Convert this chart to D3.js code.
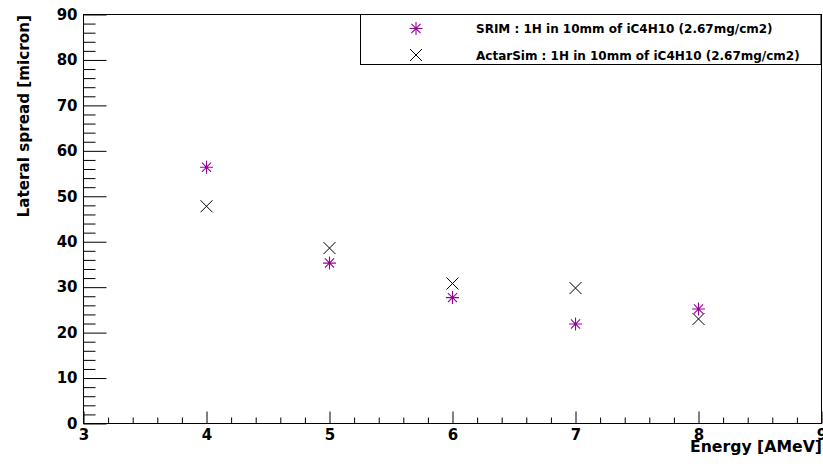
<!DOCTYPE html>
<html>
<head>
<meta charset="utf-8">
<script src="https://cdn.jsdelivr.net/npm/d3@7"></script>
<style>
  html, body { margin: 0; padding: 0; background: #fff; }
  svg { display: block; font-family: "DejaVu Sans", "Liberation Sans", Arial, sans-serif; font-weight: bold; }
</style>
</head>
<body>
<svg id="chart" width="823" height="466"></svg>
<script>
// Energy points (AMeV)
const energies = [4, 5, 6, 7, 8];
// Lateral spread (micron) for each simulation
const srimSpread = [56.4, 35.3, 27.7, 21.9, 25.2];
const actarSpread = [47.8, 38.6, 30.8, 29.8, 23.0];
const seriesNames = [
  "SRIM : 1H in 10mm of iC4H10 (2.67mg/cm2)",
  "ActarSim : 1H in 10mm of iC4H10 (2.67mg/cm2)"
];
const xTicks = [3, 4, 5, 6, 7, 8, 9];
const yTicks = [0, 10, 20, 30, 40, 50, 60, 70, 80, 90];
const xTitle = "Energy [AMeV]";
const yTitle = "Lateral spread [micron]";

const FONT = "DejaVu Sans, Liberation Sans, Arial, sans-serif";
const svg = d3.select("#chart");
const frame = { left: 83.5, right: 821.5, top: 14.5, bottom: 423.5 };

const x = d3.scaleLinear().domain([3, 9]).range([frame.left, frame.right]);
const y = d3.scaleLinear().domain([0, 90]).range([frame.bottom, frame.top]);

// minor ticks
const xMinor = d3.range(3, 9.0001, 0.2).map(v => +v.toFixed(1)).filter(v => !xTicks.includes(v));
const yMinor = d3.range(0, 90.001, 2).filter(v => !yTicks.includes(v));

const g = svg.append("g");

// frame box
g.append("rect")
  .attr("x", frame.left).attr("y", frame.top)
  .attr("width", frame.right - frame.left).attr("height", frame.bottom - frame.top)
  .attr("fill", "none").attr("stroke", "#000").attr("stroke-width", 1);

const styleLabels = a => a.selectAll("text")
  .attr("font-size", 15).attr("font-family", FONT)
  .attr("font-weight", "bold").attr("fill", "#000");

// y axis minor ticks
g.append("g").attr("transform", `translate(${frame.left},0)`)
  .call(d3.axisLeft(y).tickValues(yMinor).tickFormat("").tickSize(-12).tickSizeOuter(0))
  .call(a => a.select(".domain").remove());

// y axis major ticks + labels
g.append("g").attr("transform", `translate(${frame.left},0)`)
  .call(d3.axisLeft(y).tickValues(yTicks).tickFormat(d3.format("d"))
    .tickSize(-23).tickSizeOuter(0).tickPadding(6))
  .call(a => a.select(".domain").remove())
  .call(styleLabels);

// x axis minor ticks
g.append("g").attr("transform", `translate(0,${frame.bottom})`)
  .call(d3.axisBottom(x).tickValues(xMinor).tickFormat("").tickSize(-6).tickSizeOuter(0))
  .call(a => a.select(".domain").remove());

// x axis major ticks + labels
g.append("g").attr("transform", `translate(0,${frame.bottom})`)
  .call(d3.axisBottom(x).tickValues(xTicks).tickFormat(d3.format("d"))
    .tickSize(-12).tickSizeOuter(0).tickPadding(6))
  .call(a => a.select(".domain").remove())
  .call(styleLabels);

g.selectAll(".tick line").attr("stroke", "#000").attr("stroke-width", 1);

// axis titles
svg.append("text")
  .attr("x", 822).attr("y", 452)
  .attr("text-anchor", "end").attr("font-size", 15.7)
  .text(xTitle);

svg.append("text")
  .attr("transform", "translate(29,15) rotate(-90)")
  .attr("text-anchor", "end").attr("font-size", 15.2)
  .text(yTitle);

// marker shapes
const starColor = "#990099";
function starPath(cx, cy, r) {
  const d = r * Math.SQRT1_2;
  return `M${cx - r},${cy}L${cx + r},${cy}M${cx},${cy - r}L${cx},${cy + r}` +
         `M${cx - d},${cy - d}L${cx + d},${cy + d}M${cx - d},${cy + d}L${cx + d},${cy - d}`;
}
function crossPath(cx, cy, r) {
  return `M${cx - r},${cy - r}L${cx + r},${cy + r}M${cx - r},${cy + r}L${cx + r},${cy - r}`;
}

const srimData = energies.map((e, i) => ({ e, v: srimSpread[i] }));
const actarData = energies.map((e, i) => ({ e, v: actarSpread[i] }));

svg.append("g").selectAll("path").data(actarData).join("path")
  .attr("d", d => crossPath(x(d.e), y(d.v), 6))
  .attr("stroke", "#000").attr("stroke-width", 1).attr("fill", "none");

svg.append("g").selectAll("path").data(srimData).join("path")
  .attr("d", d => starPath(x(d.e), y(d.v), 6.5))
  .attr("stroke", starColor).attr("stroke-width", 1.1).attr("fill", "none");

// legend
const legend = svg.append("g");
legend.append("rect")
  .attr("x", 360.5).attr("y", 14.5).attr("width", 460.5).attr("height", 50)
  .attr("fill", "#fff").attr("stroke", "#000").attr("stroke-width", 1);
legend.append("path").attr("d", starPath(416, 28.5, 6.5))
  .attr("stroke", starColor).attr("stroke-width", 1.1).attr("fill", "none");
legend.append("path").attr("d", crossPath(416, 55, 6))
  .attr("stroke", "#000").attr("stroke-width", 1).attr("fill", "none");
legend.selectAll("text.lbl").data(seriesNames).join("text")
  .attr("class", "lbl")
  .attr("x", 476).attr("y", (d, i) => i === 0 ? 33 : 59.5)
  .attr("font-size", 12)
  .text(d => d);
</script>
</body>
</html>
